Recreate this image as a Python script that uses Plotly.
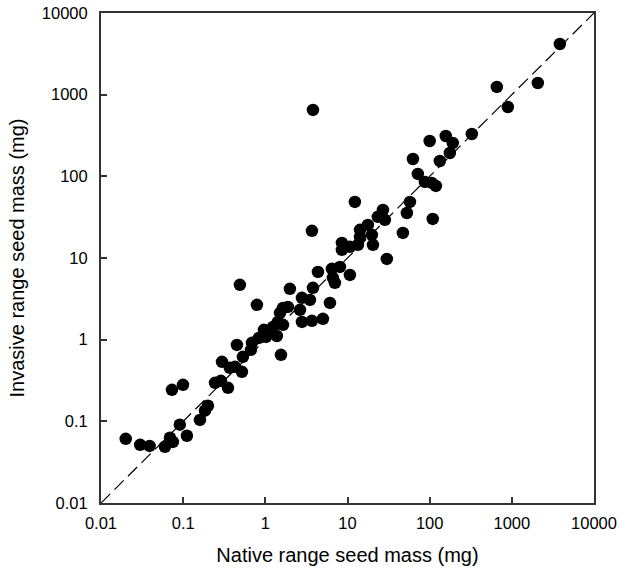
import plotly.graph_objects as go

# seed mass (mg): native range vs invasive range
native_mg = [
    0.020, 0.030, 0.039, 0.060, 0.069, 0.075, 0.091, 0.111, 0.073, 0.0995,
    0.16, 0.184, 0.20, 0.244, 0.288, 0.351, 0.297, 0.37, 0.427, 0.519,
    0.451, 0.533, 0.668, 0.687, 0.835, 0.962, 1.02, 1.17, 1.38, 1.24,
    1.42, 1.55, 0.49, 0.79, 1.51, 1.64, 1.88, 1.64, 1.99, 2.79,
    2.64, 2.79, 3.69, 3.49, 3.80, 5.02, 6.11, 4.37, 6.46, 8.09,
    7.03, 6.64, 10.7, 8.55, 8.55, 10.7, 13.4, 14.2, 14.2, 17.7,
    19.8, 20.4, 23.4, 27.0, 28.5, 12.3, 30.1, 47.2, 52.8, 57.5,
    109, 62.6, 71.8, 87.4, 106, 119, 133, 176, 157, 191,
    100, 326, 657, 2070, 894, 3840, 3.69, 3.80,
]
invasive_mg = [
    0.061, 0.0515, 0.050, 0.0488, 0.063, 0.056, 0.091, 0.0666, 0.243, 0.28,
    0.104, 0.135, 0.155, 0.296, 0.313, 0.257, 0.535, 0.452, 0.465, 0.404,
    0.863, 0.616, 0.75, 0.914, 1.05, 1.32, 1.08, 1.25, 1.11, 1.43,
    1.65, 0.652, 4.69, 2.67, 2.13, 2.45, 2.52, 1.52, 4.19, 3.25,
    2.32, 1.65, 1.70, 3.07, 4.31, 1.80, 2.82, 6.76, 7.36, 7.78,
    4.96, 5.71, 6.21, 15.3, 12.6, 13.7, 14.5, 22.1, 18.1, 25.4,
    19.2, 14.5, 31.9, 38.8, 29.3, 48.6, 9.75, 20.3, 35.6, 48.6,
    30.1, 163, 107, 85.4, 83, 76.3, 154, 193, 312, 256,
    271, 330, 1243, 1390, 707, 4170, 21.5, 650,
]

one_to_one = [0.01, 10000]
decades = [0.01, 0.1, 1, 10, 100, 1000, 10000]
decade_labels = ["0.01", "0.1", "1", "10", "100", "1000", "10000"]

fig = go.Figure()
fig.add_trace(go.Scatter(
    x=one_to_one, y=one_to_one, mode="lines",
    line=dict(color="black", width=1.2, dash="13px,6px"),
    hoverinfo="skip",
))
fig.add_trace(go.Scatter(
    x=native_mg, y=invasive_mg, mode="markers",
    marker=dict(color="black", size=12.5, line=dict(width=0)),
))

axis_style = dict(
    type="log", range=[-2, 4], automargin=False,
    tickvals=decades, ticktext=decade_labels, ticklabeloverflow="allow",
    ticks="inside", ticklen=6, tickwidth=1.5, tickcolor="#333",
    showline=True, linecolor="#333", linewidth=2, mirror=True,
    showgrid=False, zeroline=False,
    tickfont=dict(size=16.5, color="black"),
)
fig.update_xaxes(**axis_style, ticklabelstandoff=4, title=dict(
    text="Native range seed mass (mg)", font=dict(size=20, color="black"),
    standoff=17))
fig.update_yaxes(**axis_style, ticklabelstandoff=8, title=dict(
    text="Invasive range seed mass (mg)", font=dict(size=20, color="black"),
    standoff=12))

fig.update_layout(
    width=621, height=574,
    margin=dict(l=101, r=27, t=13, b=71),
    plot_bgcolor="white", paper_bgcolor="white",
    font=dict(family="Liberation Sans, Arial, sans-serif"),
    showlegend=False,
)

# drop the default 8px page margin so the figure fills the window exactly
fig.write_html(
    "out.html",
    config={"displayModeBar": False},
    post_script="document.body.style.margin='0';"
                "document.body.style.overflow='hidden';",
)
